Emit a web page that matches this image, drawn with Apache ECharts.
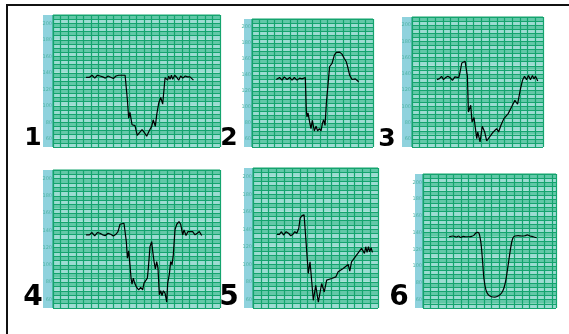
<!DOCTYPE html>
<html>
<head>
<meta charset="utf-8">
<script src="https://cdn.jsdelivr.net/npm/echarts@6/dist/echarts.min.js"></script>
<style>
  html, body { margin: 0; padding: 0; background: #fff; }
  #chart { width: 569px; height: 334px; }
</style>
</head>
<body>
<div id="chart"></div>
<script>
// heart-rate traces, x = grid cells (time), y = beats per minute
const trace1 = [[4.35,134.5],[4.8,134.5],[5.15,137],[5.5,133.5],[5.85,137],[6.2,136],[6.55,135],[6.9,133.5],[7.25,136],[7.6,134.5],[7.95,133],[8.3,136],[8.65,137],[9.05,137],[9.5,137],[9.8,107],[9.97,85],[10.14,92],[10.28,84],[10.41,77],[10.58,79],[10.8,76],[11.1,64],[11.37,67],[11.73,71],[12.0,68],[12.34,63],[12.65,69],[13.0,75],[13.2,83],[13.48,75],[13.66,89],[13.92,103],[14.19,110],[14.45,102],[14.76,134],[14.9,135],[15.1,131],[15.24,136],[15.42,132],[15.6,137],[15.77,132],[16.03,137],[16.3,134.5],[16.56,131],[16.82,136],[17.1,133.5],[17.43,136],[17.7,135],[18.05,135],[18.3,135],[18.5,131]];
const trace2 = [[3.21,134.4],[3.65,136.9],[3.97,133.6],[4.27,137.7],[4.63,134.4],[4.98,136.9],[5.29,133.6],[5.6,136.9],[5.95,133.6],[6.3,136.1],[6.61,135.2],[6.83,136.9],[7.05,136.9],[7.18,96],[7.27,87.6],[7.41,92.6],[7.58,83.4],[7.8,73],[7.98,83.4],[8.24,70],[8.47,75.9],[8.68,70],[8.9,73],[9.13,70],[9.3,79],[9.47,84],[9.66,77],[9.83,104.3],[10.0,102.2],[10.26,150.3],[10.58,154.4],[10.89,164.9],[11.15,168.2],[11.59,168.6],[11.9,166.1],[12.21,160.7],[12.47,156.5],[12.65,150.3],[12.91,139.8],[13.23,134.4],[13.44,132.7],[13.66,135.2],[13.89,136.9],[14.1,131.5]];
const trace3 = [[3.23,132.9],[3.57,134.2],[3.83,137],[4.09,132.9],[4.35,135.4],[4.65,137],[4.95,135.4],[5.25,132.1],[5.56,136.2],[5.81,137],[6.07,135.4],[6.24,142.3],[6.46,153.4],[6.67,154.6],[6.89,155.5],[7.02,154.6],[7.19,137],[7.32,93.1],[7.62,101.3],[7.79,80.8],[8.05,86.2],[8.4,60.3],[8.53,68.5],[8.83,56.2],[9.12,75.5],[9.43,68.5],[9.69,57.4],[10.12,63.2],[10.55,68.5],[10.98,72.6],[11.24,68.5],[11.54,76.7],[11.93,85],[12.48,91.1],[12.92,99.2],[13.35,107.5],[13.7,102.6],[14.08,121.9],[14.34,132.1],[14.6,137],[14.86,132.9],[15.12,137.9],[15.37,132.9],[15.63,137.9],[15.84,133.7],[16.02,137],[16.32,131.2]];
const trace4 = [[4.35,134.8],[4.79,134.8],[5.14,137.5],[5.49,133.6],[5.84,137.5],[6.19,136.7],[6.54,134.8],[6.9,134],[7.25,136.7],[7.6,135.5],[7.95,133.6],[8.3,135.5],[8.56,138.6],[8.83,147.1],[9.09,149],[9.35,148.3],[9.53,147.1],[9.66,127],[9.8,107.8],[9.97,116.2],[10.14,100],[10.28,84.7],[10.41,77.7],[10.58,84.7],[10.76,78.9],[11.02,73.8],[11.29,71.1],[11.55,73.8],[11.81,71.1],[11.99,78.9],[12.25,76.9],[12.43,84.7],[12.56,96.2],[12.78,121.2],[13.0,127],[13.13,116.2],[13.31,103.9],[13.48,95.4],[13.66,103.9],[13.83,96.2],[14.01,65.3],[14.19,70],[14.36,64.5],[14.54,70],[14.76,67.3],[14.98,56.9],[15.11,78.9],[15.33,89.3],[15.5,103.9],[15.68,100],[15.85,111.6],[16.07,140.6],[16.3,147.1],[16.6,150.2],[16.82,147.1],[17.09,134.8],[17.26,140.6],[17.52,134],[17.79,138.6],[18.05,136.7],[18.4,138.6],[18.71,134.8],[19.01,136.7],[19.28,138.6],[19.59,134]];
const trace5 = [[3.06,134.2],[3.39,134.2],[3.64,137.2],[3.9,133.4],[4.24,137.2],[4.54,135.4],[4.84,132.6],[5.1,134.2],[5.35,137.2],[5.61,135.4],[5.86,141.1],[6.03,152.6],[6.28,155.6],[6.54,156.4],[6.66,154.4],[7.08,89.4],[7.3,102.8],[7.72,58.8],[8.03,76],[8.36,56.8],[8.79,78],[9.12,68.3],[9.43,81.8],[10.06,83.7],[10.61,85.6],[10.9,91.3],[11.54,95.2],[12.18,99.8],[12.39,92.1],[12.61,102.8],[13.25,110.5],[13.89,118.2],[14.09,118.8],[14.27,112.4],[14.43,120],[14.6,113.6],[14.78,120],[14.94,114.2],[15.11,118.8],[15.29,113.6]];
const trace6 = [[3.43,135.1],[3.96,136],[4.4,134.8],[4.67,136],[4.93,134.3],[5.28,135.5],[5.63,135.1],[6.07,135.1],[6.39,135.5],[6.69,136.7],[6.95,139.6],[7.18,140.3],[7.35,139.6],[7.48,135.5],[7.65,125.6],[7.84,105.7],[8.01,85.8],[8.27,71.9],[8.58,65.9],[9.02,63.5],[9.46,63.1],[9.89,64.3],[10.34,67.9],[10.65,73.9],[10.91,83.8],[11.21,101.7],[11.53,121.6],[11.79,132.7],[12.1,136],[12.53,136.3],[12.98,136],[13.42,136.3],[13.72,137.2],[14.08,136],[14.51,135.1],[14.96,133.9]];

const traces = [trace1, trace2, trace3, trace4, trace5, trace6];
const panelNames = ['1', '2', '3', '4', '5', '6'];
const panelCells = [22, 16, 17, 22, 16, 17.5];
const yLabelValues = [60, 80, 100, 120, 140, 160, 180, 200];

// layout of each small paper strip (pixels)
const layout = [
  { left: 53,  top: 15,  width: 167, height: 132, strip: 10, num: [33, 138],  size: 25 },
  { left: 252, top: 19,  width: 121, height: 128, strip: 8,  num: [229, 138], size: 25 },
  { left: 412, top: 17,  width: 131, height: 130, strip: 10, num: [387, 139], size: 25 },
  { left: 53,  top: 170, width: 167, height: 138, strip: 10, num: [33, 298],  size: 28 },
  { left: 253, top: 168, width: 125, height: 140, strip: 9,  num: [229, 298], size: 28 },
  { left: 423, top: 174, width: 133, height: 134, strip: 8,  num: [399, 298], size: 28 }
];

const lineGreen = '#14a46e';
const stripBlue = '#8fd2dd';

const chart = echarts.init(document.getElementById('chart'), null, { renderer: 'canvas' });

const grids = layout.map(p => ({
  left: p.left, top: p.top, width: p.width, height: p.height,
  show: true, borderColor: lineGreen, borderWidth: 1, backgroundColor: 'transparent'
}));

const xAxes = layout.map((p, i) => ({
  gridIndex: i, type: 'value', min: 0, max: panelCells[i], interval: 1,
  axisLine: { show: false }, axisTick: { show: false }, axisLabel: { show: false },
  splitLine: { show: true, lineStyle: { color: lineGreen, width: 1.2 } }
}));

const yAxes = layout.map((p, i) => ({
  gridIndex: i, type: 'value', min: 50, max: 210, interval: 5,
  axisLine: { show: false }, axisTick: { show: false },
  axisLabel: {
    fontSize: 5, color: '#4fb3a3', margin: 1, fontFamily: 'DejaVu Sans',
    formatter: v => yLabelValues.includes(v) ? String(v) : ''
  },
  splitLine: { show: true, lineStyle: { color: lineGreen, width: 1 } },
  splitArea: { show: true, areaStyle: { color: ['#9cdcd2', '#62c8a8'] } }
}));

const series = traces.map((t, i) => ({
  type: 'line', data: t, xAxisIndex: i, yAxisIndex: i,
  showSymbol: false, silent: true, smooth: i === 5 ? 0.3 : false,
  lineStyle: { color: '#000', width: 1.2 }, z: 5
}));

const graphic = [
  { type: 'rect', shape: { x: 7, y: 5, width: 700, height: 500 },
    style: { fill: 'none', stroke: '#111', lineWidth: 2 }, z: -10 }
];
layout.forEach((p, i) => {
  graphic.push({ type: 'rect', shape: { x: p.left - p.strip, y: p.top, width: p.strip, height: p.height },
    style: { fill: stripBlue }, z: -5 });
  graphic.push({ type: 'text', x: p.num[0], y: p.num[1],
    style: { text: panelNames[i], font: 'bold ' + p.size + 'px "DejaVu Sans"', fill: '#000',
      textAlign: 'center', textVerticalAlign: 'middle' } });
});

chart.setOption({
  animation: false,
  backgroundColor: '#fff',
  grid: grids,
  xAxis: xAxes,
  yAxis: yAxes,
  series: series,
  graphic: graphic
});
</script>
</body>
</html>
